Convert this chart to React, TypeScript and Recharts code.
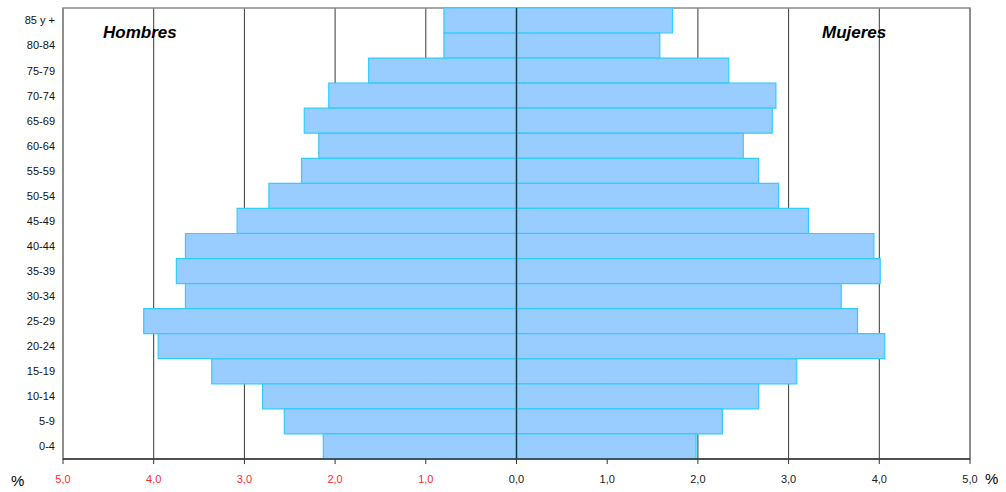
import React from "react";
import { BarChart, Bar, XAxis, YAxis, CartesianGrid, ReferenceLine, ReferenceArea } from "recharts";

const ageGroups = ["85 y +", "80-84", "75-79", "70-74", "65-69", "60-64", "55-59", "50-54", "45-49", "40-44", "35-39", "30-34", "25-29", "20-24", "15-19", "10-14", "5-9", "0-4"];
const hombres = [0.80, 0.80, 1.63, 2.07, 2.34, 2.18, 2.37, 2.73, 3.08, 3.65, 3.75, 3.65, 4.11, 3.95, 3.36, 2.80, 2.56, 2.13];
const mujeres = [1.72, 1.58, 2.34, 2.86, 2.82, 2.50, 2.67, 2.89, 3.22, 3.94, 4.01, 3.58, 3.76, 4.06, 3.09, 2.67, 2.27, 1.98];
const xTicks = [-5, -4, -3, -2, -1, 0, 1, 2, 3, 4, 5];

const data = ageGroups.map((g, i) => ({ grupo: g, hombres: -hombres[i], mujeres: mujeres[i] }));

const FONT = "'Liberation Sans', Arial, sans-serif";
const fmt = (v: number) => Math.abs(v).toFixed(1).replace(".", ",");

const XTick = (props: any) => {
  const { x, y, payload } = props;
  return (
    <text x={x} y={y} dy="0.71em" textAnchor="middle" fontFamily={FONT} fontSize={11}
      fill={payload.value < 0 ? "#ff2a2a" : "#222"}>
      {fmt(payload.value)}
    </text>
  );
};

export default function App() {
  return (
    <div style={{ position: "absolute", left: 0, top: 0, width: 1006, height: 492, background: "#fff", fontFamily: FONT }}>
      <BarChart width={1006} height={492} data={data} layout="vertical"
        margin={{ top: 8, right: 36, left: 0, bottom: 0 }}
        barCategoryGap={0} barGap={0} stackOffset="sign">
        <CartesianGrid horizontal={false} vertical stroke="#222" strokeOpacity={0.9} />
        <XAxis type="number" domain={[-5, 5]} ticks={xTicks} interval={0} height={33}
          tick={<XTick />} tickSize={5} tickMargin={11}
          axisLine={{ stroke: "#333", strokeWidth: 1.5 }} tickLine={{ stroke: "#333" }} />
        <YAxis type="category" dataKey="grupo" width={63} interval={0}
          axisLine={false} tickLine={false}
          tick={{ fontSize: 11, fill: "#111", fontFamily: FONT }} />
        <ReferenceArea x1={-5} x2={5} fill="none" stroke="#8a8a8a" strokeWidth={1.5} ifOverflow="visible" />
        <Bar dataKey="hombres" stackId="p" fill="#99ccff" stroke="#33ccff" strokeWidth={1.2} isAnimationActive={false} />
        <Bar dataKey="mujeres" stackId="p" fill="#99ccff" stroke="#33ccff" strokeWidth={1.2} isAnimationActive={false} />
        <ReferenceLine x={0} stroke="#12404f" strokeWidth={1.5} />
      </BarChart>
      <span style={{ position: "absolute", left: 103, top: 23, fontSize: 17, fontWeight: "bold", fontStyle: "italic" }}>Hombres</span>
      <span style={{ position: "absolute", left: 822, top: 23, fontSize: 17, fontWeight: "bold", fontStyle: "italic" }}>Mujeres</span>
      <span style={{ position: "absolute", left: 11, top: 472, fontSize: 15 }}>%</span>
      <span style={{ position: "absolute", left: 985, top: 470, fontSize: 15 }}>%</span>
    </div>
  );
}
